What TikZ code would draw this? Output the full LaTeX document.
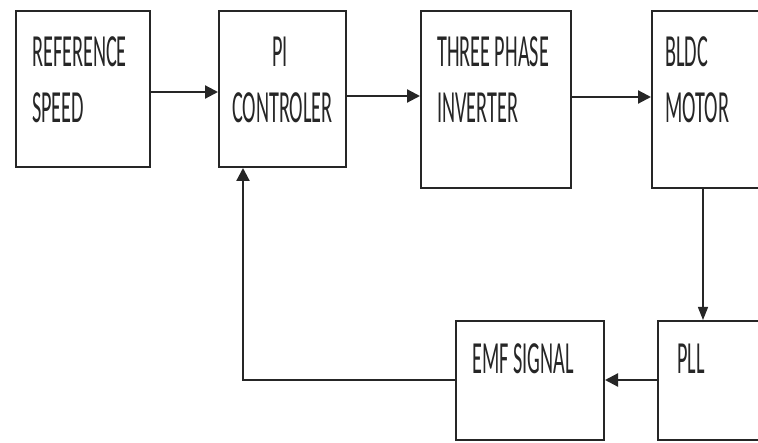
\documentclass[tikz,border=0pt]{standalone}
\usepackage{fontspec}
\usetikzlibrary{arrows.meta}
\newfontfamily\condfont[FakeStretch=0.44]{Carlito}
\begin{document}
\begin{tikzpicture}[x=1pt,y=-1pt,
  blk/.style={draw=black!85,line width=2pt,rectangle,inner sep=0pt},
  lbl/.style={anchor=base west,inner sep=0pt,font=\condfont\fontsize{46}{46}\selectfont,text=black!85},
  arr/.style={draw=black!85,line width=2.2pt,-{Triangle[length=13pt,width=13pt]}},
  thin arr/.style={draw=black!85,line width=1.2pt,-{Triangle[length=13pt,width=10pt]}}]
\useasboundingbox (0,0) rectangle (758,443);
\fill[white] (0,0) rectangle (758,443);
\clip (0,0) rectangle (758,443);
% boxes
\node[blk,minimum width=134pt,minimum height=156pt] (ref) at (83,89) {};
\node[blk,minimum width=127pt,minimum height=156pt] (pi) at (282.5,89) {};
\node[blk,minimum width=150pt,minimum height=177pt] (inv) at (496,99.5) {};
\node[blk,minimum width=130pt,minimum height=177pt] (bldc) at (717,99.5) {};
\node[blk,minimum width=148pt,minimum height=119pt] (emf) at (530,380.5) {};
\node[blk,minimum width=130pt,minimum height=119pt] (pll) at (723,380.5) {};
% texts
\node[lbl] (t1) at (32,67) {REFERENCE};
\node[lbl] (t2) at (32,123) {SPEED};
\node[lbl,anchor=base] (t3) at (280,67) {PI};
\node[lbl,anchor=base] (t4) at (282.5,123) {CONTROLER};
\node[lbl] (t5) at (437,67) {THREE PHASE};
\node[lbl] (t6) at (437,123) {INVERTER};
\node[lbl] (t7) at (665,67) {BLDC};
\node[lbl] (t8) at (665,123) {MOTOR};
\node[lbl] (t9) at (472,374) {EMF SIGNAL};
\node[lbl] (t10) at (677,374) {PLL};
% helper coordinates
\coordinate (vx) at (703,0);
\coordinate (fb) at (0,380);
\coordinate (fx) at (243,0);
\coordinate (y1) at (0,92);
\coordinate (y2) at (0,96);
\coordinate (y3) at (0,97);
% connectors
\draw[arr] (ref.east |- y1) -- (pi.west |- y1);
\draw[arr] (pi.east |- y2) -- (inv.west |- y2);
\draw[arr] (inv.east |- y3) -- (bldc.west |- y3);
\draw[thin arr] (bldc.south -| vx) -- (pll.north -| vx);
\draw[arr] (pll.west |- fb) -- (emf.east |- fb);
\draw[arr] (emf.west |- fb) -| (fx |- pi.south);
\end{tikzpicture}
\end{document}
